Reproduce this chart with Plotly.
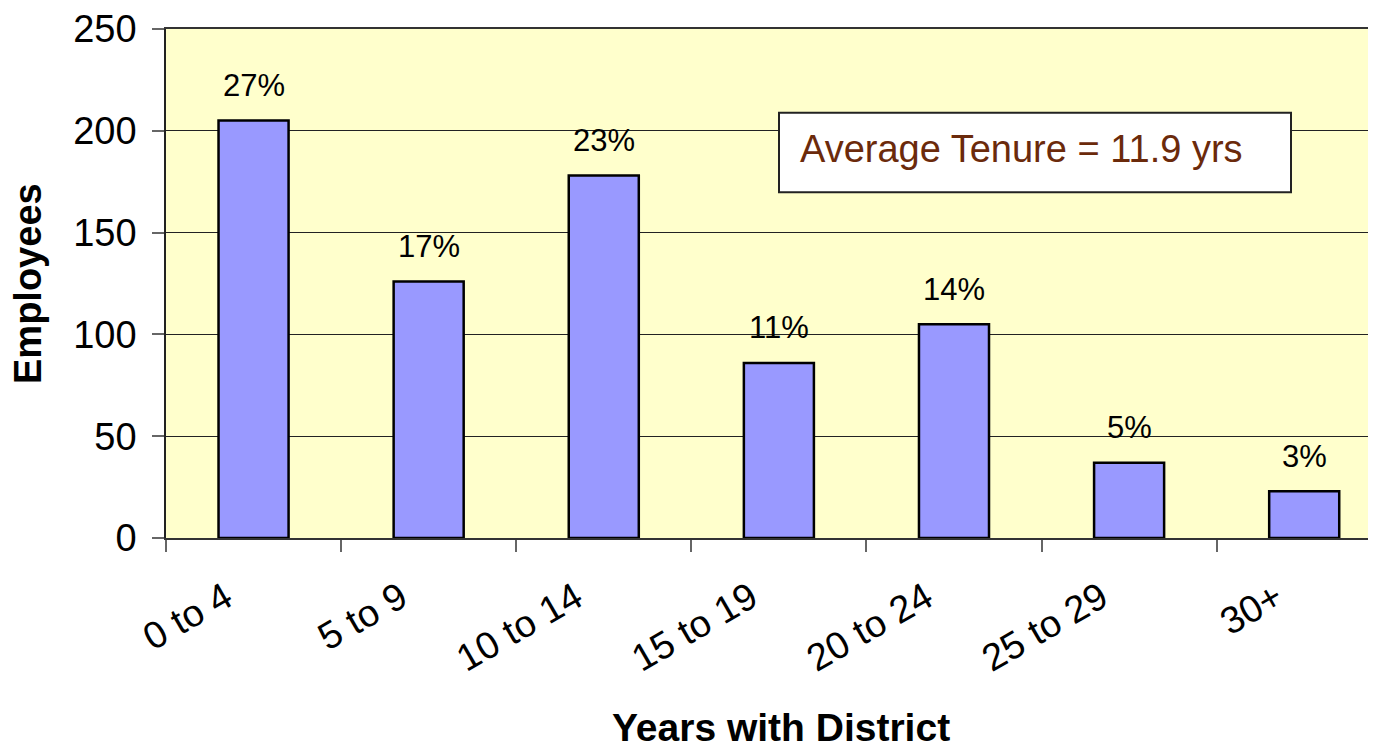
import plotly.graph_objects as go

categories = ["0 to 4", "5 to 9", "10 to 14", "15 to 19", "20 to 24", "25 to 29", "30+"]
employees = [205, 126, 178, 86, 105, 37, 23]
pct_labels = ["27%", "17%", "23%", "11%", "14%", "5%", "3%"]
y_ticks = [0, 50, 100, 150, 200, 250]

FONT = "Liberation Sans, Arial, sans-serif"

OFF = 8  # page body margin
W, H = 1376 - OFF, 749 - OFF
L, R, T, B = 158, 0, 19, 211
pw = W - L - R
ph = H - T - B

def px_x(x):
    return (x - OFF - L) / pw

def px_y(y):
    return (H - B - (y - OFF)) / ph

fig = go.Figure()
fig.add_trace(go.Bar(
    x=categories, y=employees, width=0.4,
    marker=dict(color="#9999FF", line=dict(color="#000000", width=2.5)),
    hoverinfo="skip",
))

for c, v, lab in zip(categories, employees, pct_labels):
    fig.add_annotation(
        x=c, y=v, text=lab, showarrow=False,
        xanchor="center", yanchor="middle", yshift=35,
        font=dict(family=FONT, size=31, color="#000000"),
    )

fig.update_layout(
    width=W, height=H,
    margin=dict(l=L, r=R, t=T, b=B),
    paper_bgcolor="#FFFFFF",
    plot_bgcolor="#FFFFCC",
    showlegend=False,
    xaxis=dict(
        type="category", range=[-0.5, 6.41],
        tickson="boundaries", ticks="outside", ticklen=12, tickcolor="#666666",
        tickwidth=1.5,
        tickangle=-30, tickfont=dict(family=FONT, size=38, color="#000000"),
        ticklabelshift=-28, ticklabelstandoff=21,
        showline=True, mirror=True, linecolor="#333333", linewidth=1.5,
        showgrid=False, zeroline=False,
    ),
    yaxis=dict(
        range=[0, 250], tickvals=y_ticks, ticks="outside", ticklen=12,
        tickcolor="#666666", tickwidth=1.5, ticklabelstandoff=8,
        ticklabeloverflow="allow",
        tickfont=dict(family=FONT, size=38, color="#000000"),
        showline=True, linecolor="#222222", linewidth=1.5,
        showgrid=True, gridcolor="#222222", gridwidth=1,
        zeroline=False,
    ),
)

# Axis titles
fig.add_annotation(
    text="<b>Employees</b>", xref="paper", yref="paper",
    x=px_x(28), y=px_y(283), xanchor="center", yanchor="middle",
    textangle=-90, showarrow=False,
    font=dict(family=FONT, size=38, color="#000000"),
)
fig.add_annotation(
    text="<b>Years with District</b>", xref="paper", yref="paper",
    x=px_x(781), y=px_y(728), xanchor="center", yanchor="middle",
    showarrow=False,
    font=dict(family=FONT, size=39, color="#000000"),
)

# Average tenure box
fig.add_shape(
    type="rect", xref="paper", yref="paper",
    x0=px_x(779), x1=px_x(1291), y0=px_y(191), y1=px_y(111),
    fillcolor="#FFFFFF", line=dict(color="#222222", width=2), layer="above",
)
fig.add_annotation(
    text="Average Tenure = 11.9 yrs", xref="paper", yref="paper",
    x=px_x(798), y=px_y(147), xanchor="left", yanchor="middle",
    showarrow=False,
    font=dict(family=FONT, size=38, color="#6B2A0B"),
)

fig.write_html("out.html")
